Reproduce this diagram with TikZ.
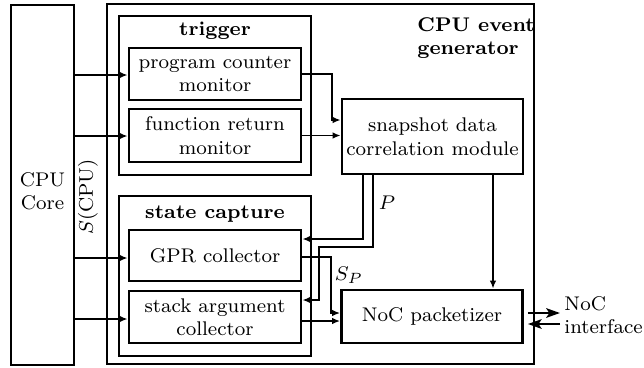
\documentclass[tikz,border=0pt]{standalone}
\usetikzlibrary{arrows.meta,calc}
\newcommand\pxu{0.404pt}
\begin{document}
\begin{tikzpicture}[x=0.404pt, y=-0.404pt, font=\footnotesize,
  box/.style={draw, line width=1.1pt, inner sep=0pt, align=center},
  conn/.style={line width=0.7pt, -{Latex[length=3.2pt,width=2.6pt]}},
  port/.style={line width=1.1pt, -{Stealth[length=5.5pt,width=3.8pt,inset=1.2pt]}},
  ttl/.style={font=\footnotesize\bfseries}]
\useasboundingbox (0,0) rectangle (644,367);

% CPU core and generator frame
\node[box, minimum width=63*\pxu, minimum height=360*\pxu] (core) at (42.5,185) {};
\node[align=center] (coretxt) at (42.5,191) {CPU\\Core};
\node[box, minimum width=427*\pxu, minimum height=360*\pxu] (gen) at (320.5,184) {};
\node[ttl, align=left, anchor=north west, inner sep=0pt] (gentxt) at (417,17) {CPU event\\generator};
\node[rotate=90] (scpu) at (88,197) {$S(\mathrm{CPU})$};

% trigger group
\node[box, minimum width=192*\pxu, minimum height=159*\pxu] (trig) at (215,95.5) {};
\node[ttl] (trigtxt) at (215,31) {trigger};
\node[box, minimum width=172*\pxu, minimum height=52*\pxu] (pcm) at (215,74) {program counter\\monitor};
\node[box, minimum width=172*\pxu, minimum height=53*\pxu] (frm) at (215,135.5) {function return\\monitor};

% state capture group
\node[box, minimum width=192*\pxu, minimum height=160*\pxu] (cap) at (215,276) {};
\node[ttl] (captxt) at (215,214) {state capture};
\node[box, minimum width=172*\pxu, minimum height=51*\pxu] (gpr) at (215,255.5) {GPR collector};
\node[box, minimum width=172*\pxu, minimum height=52*\pxu] (sac) at (215,317) {stack argument\\collector};

% correlation and packetizer
\node[box, minimum width=181*\pxu, minimum height=75*\pxu] (snap) at (432.5,136.5) {snapshot data\\correlation module};
\node[box, minimum width=181*\pxu, minimum height=53*\pxu] (noc) at (432,316.5) {NoC packetizer};
\node[align=left, anchor=west, inner sep=0pt] (nif) at (564,315) {NoC\\interface};
\coordinate (nifend) at (560,318);

% signal labels
\node (plab) at (387,203) {$P$};
\node (splab) at (349,275) {$S_P$};

% core signals into the monitors and collectors
\draw[conn] (core.east |- 0,75) -- (pcm.west |- 0,75);
\draw[conn] (core.east |- 0,136) -- (frm.west |- 0,136);
\draw[conn] (core.east |- 0,258) -- (gpr.west |- 0,258);
\draw[conn] (core.east |- 0,319) -- (sac.west |- 0,319);

% trigger outputs
\draw[conn] (pcm.east) -- (332,74) -- (332,120) -- (snap.west |- 0,120);
\draw[conn] (frm.east) -- (frm.east -| snap.west);

% P requests back to the collectors
\draw[conn] (snap.south -| 363,0) |- (gpr.east |- 0,239);
\draw[conn] (snap.south -| 373,0) -- (373,247) -- (319,247) -- (319,300) -- (sac.east |- 0,300);

% collected state to the packetizer
\draw[conn] (gpr.east |- 0,257) -- (331,257) -- (331,313) -- (noc.west |- 0,313);
\draw[conn] (sac.east |- 0,321) -- (noc.west |- 0,321);
\draw[conn] (snap.south -| 493,0) -- (noc.north -| 493,0);

% NoC interface
\draw[port] ($(noc.east |- 0,313)+(4,0)$) -- (nifend |- 0,313);
\draw[port] (nifend |- 0,324) -- ($(noc.east |- 0,324)+(4,0)$);
\end{tikzpicture}
\end{document}
